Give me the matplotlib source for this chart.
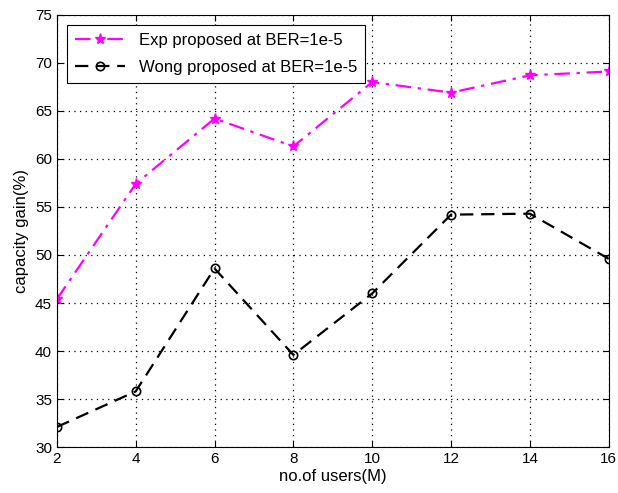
import numpy as np
import matplotlib.pyplot as plt

users = [2, 4, 6, 8, 10, 12, 14, 16]
exp_gain = [45.4, 57.4, 64.2, 61.3, 68.0, 66.9, 68.7, 69.1]
wong_gain = [32.1, 35.8, 48.6, 39.6, 46.0, 54.2, 54.3, 49.6]

plt.rcParams['font.family'] = ['Liberation Sans', 'DejaVu Sans']

fig = plt.figure(figsize=(6.18, 4.93), dpi=100)
ax = fig.add_axes([0.092, 0.093, 0.893, 0.877])

ax.plot(users, exp_gain, color='#ff00ff', lw=1.6, marker='*', ms=8,
        dashes=(7, 3, 1.5, 3), label='Exp proposed at BER=1e-5')
ax.plot(users, wong_gain, color='black', lw=1.6, marker='o', ms=6,
        mfc='none', mew=1.2, dashes=(6, 3.5), label='Wong proposed at BER=1e-5')

ax.set_xlim(2, 16)
ax.set_ylim(30, 75)
ax.set_xticks(range(2, 17, 2))
ax.set_yticks(range(30, 76, 5))
ax.tick_params(direction='in', labelsize=11, length=4, top=True, right=True)
ax.grid(True, ls=(0, (1, 3.5)), lw=0.9, color='black')
ax.set_xlabel('no.of users(M)', fontsize=12, labelpad=2)
ax.set_ylabel('capacity gain(%)', fontsize=12, labelpad=4)

leg = ax.legend(loc='upper left', fontsize=12, fancybox=False, framealpha=1,
                edgecolor='black', handlelength=3, labelspacing=0.7,
                borderaxespad=0.6, borderpad=0.5)
leg.get_frame().set_linewidth(0.8)

fig.savefig('out.png', dpi=100)
